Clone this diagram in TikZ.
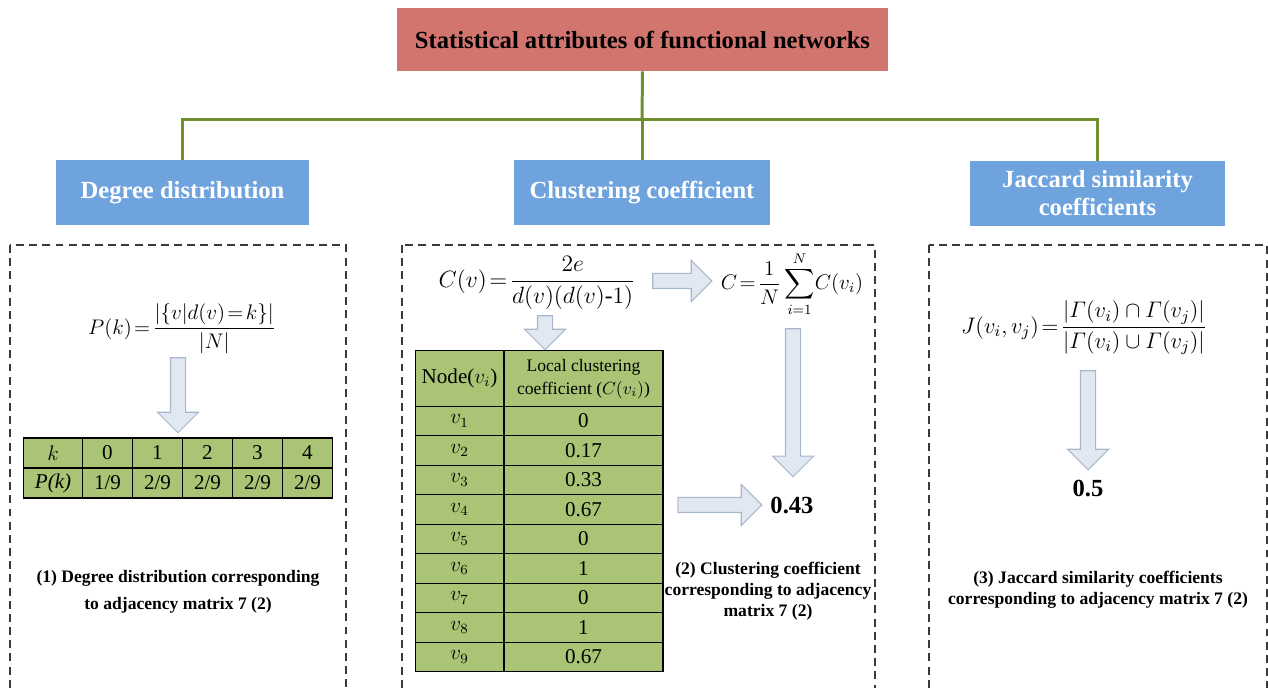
\RequirePackage{fix-cm}
\documentclass[tikz,border=0pt]{standalone}
\usepackage{amsmath}
\usepackage{fontspec}
\setmainfont{Liberation Serif}
\usepackage{xcolor}
\definecolor{attrred}{HTML}{D3756F}
\definecolor{catblue}{HTML}{6FA3DE}
\definecolor{branchgreen}{HTML}{6F8F2E}
\definecolor{tabgreen}{HTML}{A8C474}
\definecolor{arrfill}{HTML}{E2E8F2}
\definecolor{arrline}{HTML}{A9B7CC}
\definecolor{panelgray}{HTML}{3A3A3A}
\usepackage{tikz}
\usetikzlibrary{arrows.meta,positioning,shapes.arrows,matrix,calc}

\begin{document}
\begin{tikzpicture}[x=0.02cm,y=-0.02cm,
  headbox/.style={fill=attrred,minimum width=9.82cm,minimum height=1.26cm,font=\fontsize{14}{16}\selectfont\bfseries},
  catbox/.style={fill=catblue,text=white,minimum height=1.3cm,align=center,font=\fontsize{14}{16}\selectfont\bfseries},
  branch/.style={draw=branchgreen,line width=1.7pt},
  panel/.style={draw=panelgray,line width=0.6pt,dash pattern=on 4.5pt off 3pt},
  fatarrow/.style={single arrow,draw=arrline,fill=arrfill,line width=0.6pt,inner sep=0.14cm,minimum width=0.8cm,single arrow head extend=0.26cm},
  cell/.style={draw,line width=0.6pt,fill=tabgreen,inner sep=0pt,anchor=center,font=\fontsize{12}{14}\selectfont},
  formula/.style={font=\fontsize{12}{14}\selectfont},
  result/.style={font=\fontsize{14}{16}\selectfont\bfseries},
  note/.style={align=center,font=\fontsize{10}{12}\selectfont\bfseries}]
\useasboundingbox (0,0) rectangle (1268,688);

% headings
\node[headbox] (attr) at (642.5,39.5) {Statistical attributes of functional networks};
\node[catbox,minimum width=5.06cm] (deg) at (182.5,192.5) {Degree distribution};
\node[catbox,minimum width=5.12cm] (clu) at (642,192.5) {Clustering coefficient};
\node[catbox,minimum width=5.1cm] (jac) at (1097.5,193.5) {Jaccard similarity\\coefficients};

% tree
\coordinate (hub) at (642,120);
\draw[branch] (attr.south) -- (hub);
\draw[branch] (hub) -| (deg.north);
\draw[branch] (hub) -- (clu.north);
\draw[branch] (hub) -| (jac.north);

% panels
\draw[panel] (10,245) rectangle (346,700);
\draw[panel] (402,245) rectangle (875,700);
\draw[panel] (929,245) rectangle (1267,700);

% degree distribution
\node[formula] (pk) at (182,329) {$P(k)\!=\!\dfrac{\left|\left\{v|d(v)\!=\!k\right\}\right|}{|N|}$};
\node[fatarrow,minimum height=1.5cm,shape border rotate=270] (pkdown) at (178,391.5) {};
\matrix (degtab) [matrix of nodes,nodes={cell,minimum width=1cm,minimum height=0.6cm},
  column 1/.style={nodes={minimum width=1.18cm}},column sep=-0.6pt,row sep=-0.6pt] at (178,468) {
  $k$ & 0 & 1 & 2 & 3 & 4 \\
  \textit{P(k)} & 1/9 & 2/9 & 2/9 & 2/9 & 2/9 \\
};
\node[note,font=\fontsize{10}{15.4}\selectfont\bfseries] (degnote) at (178,591.5) {(1) Degree distribution corresponding\\to adjacency matrix 7 (2)};

% clustering coefficient
\node[formula,font=\fontsize{13.4}{15}\selectfont] (cv) at (537,283) {$C(v)\!=\!\dfrac{2e}{d(v)(d(v)\text{-}1)}$};
\node[formula] (cbar) at (792,284) {$C\!=\!\dfrac{1}{N}\displaystyle\sum_{i=1}^{N}\!C(v_i)$};
\node[fatarrow,minimum height=1.18cm] (cvright) at (678.5,281) {};
\node[fatarrow,minimum height=0.68cm,shape border rotate=270] (cvdown) at (545,329) {};
\node[fatarrow,minimum height=2.96cm,shape border rotate=270] (cbardown) at (793,399) {};
\node[fatarrow,minimum height=1.68cm] (tabright) at (716,505) {};
\matrix (clutab) [matrix of nodes,nodes={cell,minimum height=0.59cm},
  column 1/.style={nodes={minimum width=1.78cm}},column 2/.style={nodes={minimum width=3.18cm}},
  row 1/.style={nodes={minimum height=1.12cm}},column sep=-0.6pt,row sep=-0.6pt] at (539,511) {
  Node($v_i$) & {\fontsize{10}{13}\selectfont\begin{tabular}{@{}c@{}}Local clustering\\coefficient ($C(v_i)$)\end{tabular}} \\
  $v_1$ & 0 \\
  $v_2$ & 0.17 \\
  $v_3$ & 0.33 \\
  $v_4$ & 0.67 \\
  $v_5$ & 0 \\
  $v_6$ & 1 \\
  $v_7$ & 0 \\
  $v_8$ & 1 \\
  $v_9$ & 0.67 \\
};
\node[result] (cval) at (792,505) {0.43};
\node[note] (clunote) at (768,591) {(2) Clustering coefficient\\corresponding to adjacency\\matrix 7 (2)};

% jaccard
\node[formula,font=\fontsize{12.8}{15}\selectfont] (jf) at (1084,328) {$J(v_i,v_j)\!=\!\dfrac{\left|\varGamma(v_i)\cap\varGamma(v_j)\right|}{\left|\varGamma(v_i)\cup\varGamma(v_j)\right|}$};
\node[fatarrow,minimum height=1.98cm,shape border rotate=270] (jfdown) at (1088,416.5) {};
\node[result] (jval) at (1088,488) {0.5};
\node[note] (jacnote) at (1098,590) {(3) Jaccard similarity coefficients\\corresponding to adjacency matrix 7 (2)};
\end{tikzpicture}
\end{document}
